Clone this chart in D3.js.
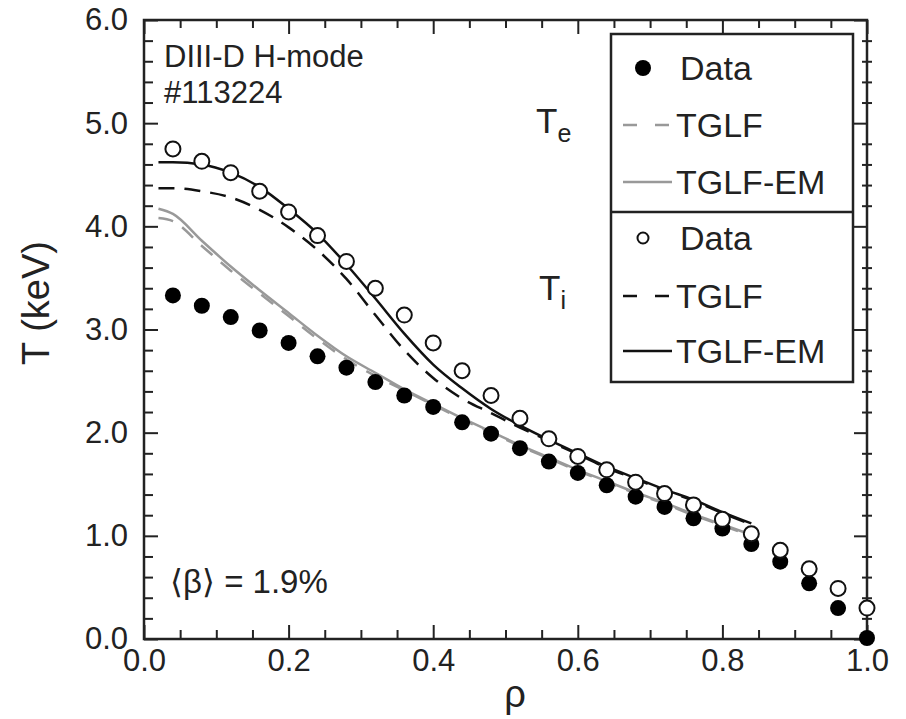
<!DOCTYPE html>
<html>
<head>
<meta charset="utf-8">
<script src="https://cdn.jsdelivr.net/npm/d3@7"></script>
<style>
  body { margin: 0; background: #fff; }
  svg text { font-family: "Liberation Sans", Arial, sans-serif; fill: #222; }
</style>
</head>
<body>
<div class="chart"></div>
<script>
// measured profiles, DIII-D #113224
const rhoData = [0.04, 0.08, 0.12, 0.16, 0.20, 0.24, 0.28, 0.32, 0.36, 0.40, 0.44, 0.48, 0.52,
  0.56, 0.60, 0.64, 0.68, 0.72, 0.76, 0.80, 0.84, 0.88, 0.92, 0.96, 1.00];
const teData = [3.33, 3.23, 3.12, 2.99, 2.87, 2.74, 2.63, 2.49, 2.36, 2.25, 2.10, 1.99, 1.85,
  1.72, 1.61, 1.49, 1.38, 1.28, 1.17, 1.07, 0.92, 0.75, 0.54, 0.30, 0.01];
const tiData = [4.75, 4.63, 4.52, 4.34, 4.14, 3.91, 3.66, 3.40, 3.14, 2.87, 2.60, 2.36, 2.14,
  1.94, 1.77, 1.64, 1.52, 1.41, 1.30, 1.16, 1.02, 0.86, 0.68, 0.49, 0.30];

// model predictions
const rhoModel = [0.02, 0.04, 0.08, 0.12, 0.16, 0.20, 0.24, 0.28, 0.32, 0.36, 0.40, 0.44,
  0.48, 0.52, 0.56, 0.60, 0.64, 0.68, 0.72, 0.76, 0.80, 0.84];
const teTglf = [4.08, 4.05, 3.81, 3.57, 3.35, 3.13, 2.91, 2.71, 2.55, 2.41, 2.27, 2.13,
  2.00, 1.87, 1.75, 1.63, 1.52, 1.41, 1.31, 1.20, 1.10, 1.00];
const teTglfEm = [4.17, 4.12, 3.86, 3.61, 3.38, 3.16, 2.94, 2.74, 2.58, 2.42, 2.28, 2.14,
  2.01, 1.88, 1.76, 1.64, 1.53, 1.42, 1.32, 1.21, 1.11, 1.01];
const tiTglf = [4.37, 4.37, 4.34, 4.28, 4.16, 3.99, 3.77, 3.49, 3.14, 2.80, 2.53, 2.33,
  2.19, 2.05, 1.92, 1.79, 1.66, 1.55, 1.44, 1.34, 1.22, 1.11];
const tiTglfEm = [4.62, 4.62, 4.60, 4.52, 4.38, 4.17, 3.93, 3.63, 3.30, 2.96, 2.66, 2.43,
  2.23, 2.07, 1.93, 1.80, 1.67, 1.56, 1.45, 1.35, 1.23, 1.12];

const xMajor = [0, 0.2, 0.4, 0.6, 0.8, 1.0];
const yMajor = [0, 1, 2, 3, 4, 5, 6];

const W = 906, H = 719;
const margin = { top: 20, right: 39, bottom: 80, left: 144 };
const width = W - margin.left - margin.right,
  height = H - margin.top - margin.bottom;

const svg = d3.select(".chart").append("svg")
  .attr("width", W).attr("height", H);
const g = svg.append("g")
  .attr("transform", "translate(" + margin.left + "," + margin.top + ")");

const x = d3.scaleLinear().domain([0, 1]).range([0, width]);
const y = d3.scaleLinear().domain([0, 6]).range([height, 0]);

const xMinor = d3.range(0, 1.0001, 0.05).filter(v => Math.abs(v * 5 - Math.round(v * 5)) > 1e-6);
const yMinor = d3.range(0, 6.0001, 0.2).filter(v => Math.abs(v - Math.round(v)) > 1e-6);

// ---- AXES (ticks point inward) ----
function styleAxis(sel) {
  sel.select(".domain").remove();
  sel.selectAll("line").attr("stroke", "#222").attr("stroke-width", 2);
  sel.selectAll("text").attr("font-size", 31).attr("fill", "#222");
}

g.append("g").attr("transform", "translate(0," + height + ")")
  .call(d3.axisBottom(x).tickValues(xMajor).tickSize(-14).tickPadding(10).tickFormat(d3.format(".1f")))
  .call(styleAxis);
g.append("g").attr("transform", "translate(0," + height + ")")
  .call(d3.axisBottom(x).tickValues(xMinor).tickSize(-9).tickFormat(""))
  .call(styleAxis);
g.append("g")
  .call(d3.axisTop(x).tickValues(xMajor).tickSize(-14).tickFormat(""))
  .call(styleAxis);
g.append("g")
  .call(d3.axisTop(x).tickValues(xMinor).tickSize(-8).tickFormat(""))
  .call(styleAxis);

g.append("g")
  .call(d3.axisLeft(y).tickValues(yMajor).tickSize(-14).tickPadding(16).tickFormat(d3.format(".1f")))
  .call(styleAxis);
g.append("g")
  .call(d3.axisLeft(y).tickValues(yMinor).tickSize(-9).tickFormat(""))
  .call(styleAxis);
g.append("g").attr("transform", "translate(" + width + ",0)")
  .call(d3.axisRight(y).tickValues(yMajor).tickSize(-13).tickFormat(""))
  .call(styleAxis);
g.append("g").attr("transform", "translate(" + width + ",0)")
  .call(d3.axisRight(y).tickValues(yMinor).tickSize(5).tickFormat(""))
  .call(styleAxis);
g.append("g").attr("transform", "translate(" + width + ",0)")
  .call(d3.axisRight(y).tickValues(yMinor).tickSize(-5).tickFormat(""))
  .call(styleAxis);

g.append("rect")
  .attr("width", width).attr("height", height)
  .attr("fill", "none").attr("stroke", "#222").attr("stroke-width", 2.5);

// ---- MODEL CURVES ----
const line = d3.line()
  .x((d, i) => x(rhoModel[i]))
  .y(d => y(d))
  .curve(d3.curveMonotoneX);

const curves = [
  { vals: teTglf, color: "#999", dash: "15,11" },
  { vals: teTglfEm, color: "#999", dash: null },
  { vals: tiTglf, color: "#111", dash: "16,10" },
  { vals: tiTglfEm, color: "#111", dash: null }
];
g.selectAll(".curve").data(curves).enter().append("path")
  .attr("class", "curve")
  .attr("d", d => line(d.vals))
  .attr("fill", "none")
  .attr("stroke", d => d.color)
  .attr("stroke-width", 2.5)
  .attr("stroke-dasharray", d => d.dash);

// ---- DATA POINTS ----
g.selectAll(".te").data(teData).enter().append("circle")
  .attr("class", "te")
  .attr("cx", (d, i) => x(rhoData[i]))
  .attr("cy", d => y(d))
  .attr("r", 8)
  .attr("fill", "#000");

g.selectAll(".ti").data(tiData).enter().append("circle")
  .attr("class", "ti")
  .attr("cx", (d, i) => x(rhoData[i]))
  .attr("cy", d => y(d))
  .attr("r", 7.5)
  .attr("fill", "#fff")
  .attr("stroke", "#111")
  .attr("stroke-width", 2);

// ---- AXIS TITLES ----
svg.append("text")
  .attr("transform", "translate(49," + 303 + ") rotate(-90)")
  .attr("text-anchor", "middle")
  .attr("font-size", 38)
  .text("T (keV)");
svg.append("text")
  .attr("x", 515).attr("y", 707)
  .attr("text-anchor", "middle")
  .attr("font-size", 38)
  .text("ρ");

// ---- ANNOTATIONS ----
svg.append("text").attr("x", 164).attr("y", 67).attr("font-size", 31).text("DIII-D H-mode");
svg.append("text").attr("x", 164).attr("y", 103).attr("font-size", 31).text("#113224");
svg.append("text").attr("x", 170).attr("y", 593).attr("font-size", 33).text("⟨β⟩ = 1.9%");

const te = svg.append("text").attr("x", 536).attr("y", 133).attr("font-size", 35);
te.append("tspan").text("T");
te.append("tspan").attr("font-size", 25).attr("dy", 9).text("e");
const ti = svg.append("text").attr("x", 539).attr("y", 300).attr("font-size", 35);
ti.append("tspan").text("T");
ti.append("tspan").attr("font-size", 25).attr("dy", 9).text("i");

// ---- LEGEND ----
const legend = svg.append("g");
legend.append("rect")
  .attr("x", 611).attr("y", 34).attr("width", 242).attr("height", 348)
  .attr("fill", "#fff").attr("stroke", "#222").attr("stroke-width", 2.5);
legend.append("line")
  .attr("x1", 611).attr("x2", 853).attr("y1", 212).attr("y2", 212)
  .attr("stroke", "#222").attr("stroke-width", 2.5);

const legendItems = [
  { label: "Data", y: 80, type: "filled" },
  { label: "TGLF", y: 137, type: "line", color: "#999", dash: "14,18" },
  { label: "TGLF-EM", y: 194, type: "line", color: "#999", dash: null },
  { label: "Data", y: 250, type: "open" },
  { label: "TGLF", y: 308, type: "line", color: "#111", dash: "14,18" },
  { label: "TGLF-EM", y: 363, type: "line", color: "#111", dash: null }
];
legendItems.forEach(d => {
  const cy = d.y - 12;
  if (d.type === "filled") {
    legend.append("circle").attr("cx", 643).attr("cy", cy).attr("r", 8).attr("fill", "#000");
  } else if (d.type === "open") {
    legend.append("circle").attr("cx", 643).attr("cy", cy).attr("r", 5.5)
      .attr("fill", "#fff").attr("stroke", "#111").attr("stroke-width", 2);
  } else {
    legend.append("line")
      .attr("x1", 623).attr("x2", 672).attr("y1", cy).attr("y2", cy)
      .attr("stroke", d.color).attr("stroke-width", 2.5)
      .attr("stroke-dasharray", d.dash);
  }
  legend.append("text")
    .attr("x", d.type === "line" ? 676 : 680).attr("y", d.y)
    .attr("font-size", 34)
    .text(d.label);
});
</script>
</body>
</html>
